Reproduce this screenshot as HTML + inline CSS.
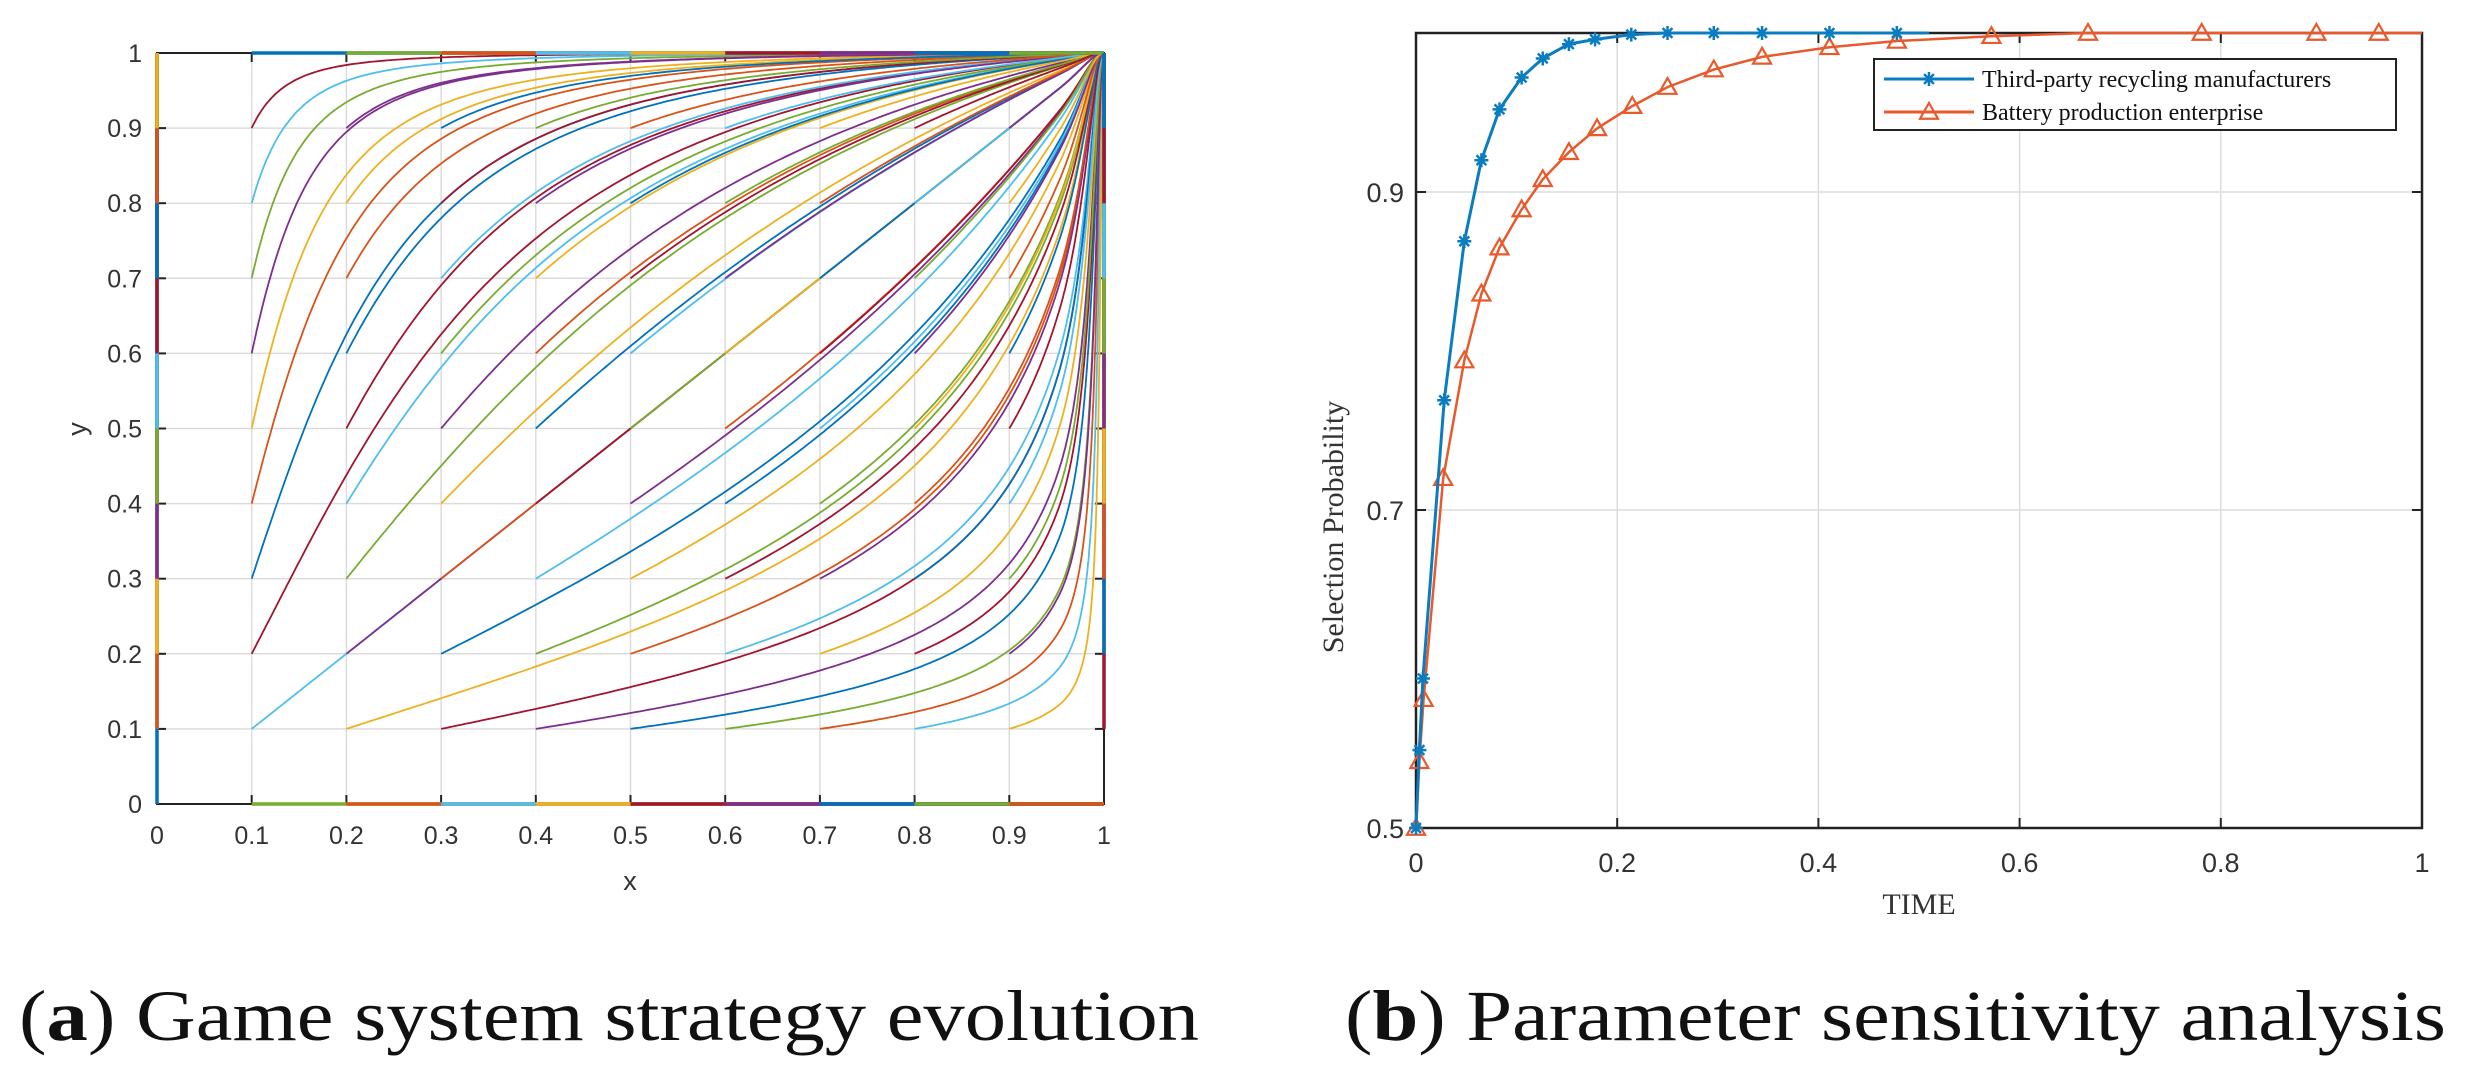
<!DOCTYPE html>
<html><head><meta charset="utf-8"><style>
html,body{margin:0;padding:0;background:#fff;}
svg{display:block;}
</style></head><body>
<svg id="fig" width="2467" height="1080" viewBox="0 0 2467 1080" xmlns="http://www.w3.org/2000/svg">
  <g id="left"></g>
  <g id="right"></g>
  <text x="19" y="1040" font-family="Liberation Serif, serif" font-size="72" fill="#111" textLength="1180" lengthAdjust="spacingAndGlyphs">(<tspan font-weight="bold">a</tspan>) Game system strategy evolution</text>
  <text x="1345" y="1040" font-family="Liberation Serif, serif" font-size="72" fill="#111" textLength="1101" lengthAdjust="spacingAndGlyphs">(<tspan font-weight="bold">b</tspan>) Parameter sensitivity analysis</text>
</svg>
<script>
// ---- Left chart data: starting points of trajectories ----
const startX = [0, 0.1, 0.2, 0.3, 0.4, 0.5, 0.6, 0.7, 0.8, 0.9, 1];
const startY = [0, 0.1, 0.2, 0.3, 0.4, 0.5, 0.6, 0.7, 0.8, 0.9, 1];
const leftTicks = [0, 0.1, 0.2, 0.3, 0.4, 0.5, 0.6, 0.7, 0.8, 0.9, 1];
const leftTickLabels = ["0","0.1","0.2","0.3","0.4","0.5","0.6","0.7","0.8","0.9","1"];
// ---- Right chart data ----
const blueT = [0, 0.0034, 0.0069, 0.028, 0.048, 0.065, 0.083, 0.105, 0.126, 0.152, 0.178, 0.214, 0.25, 0.296, 0.344, 0.411, 0.478];
const blueY = [0.5, 0.549, 0.594, 0.769, 0.869, 0.92, 0.952, 0.972, 0.984, 0.993, 0.996, 0.999, 1, 1, 1, 1, 1];
const blueEndT = [0.51];
const blueEndY = [1];
const orangeT = [0, 0.0034, 0.0076, 0.027, 0.048, 0.065, 0.083, 0.105, 0.126, 0.152, 0.18, 0.215, 0.25, 0.296, 0.344, 0.411, 0.478, 0.572, 0.668, 0.781, 0.895, 0.957];
const orangeY = [0.5, 0.542, 0.581, 0.72, 0.794, 0.836, 0.865, 0.889, 0.908, 0.925, 0.94, 0.954, 0.966, 0.977, 0.985, 0.991, 0.995, 0.998, 1, 1, 1, 1];
const rightXTicks = [0, 0.2, 0.4, 0.6, 0.8, 1];
const rightXTickLabels = ["0","0.2","0.4","0.6","0.8","1"];
const rightYTicks = [0.5, 0.7, 0.9];
const rightYTickLabels = ["0.5","0.7","0.9"];
const legendLabels = ["Third-party recycling manufacturers", "Battery production enterprise"];

const NS = "http://www.w3.org/2000/svg";
function mk(parent, tag, attrs) {
  const e = document.createElementNS(NS, tag);
  for (const k in attrs) e.setAttribute(k, attrs[k]);
  parent.appendChild(e);
  return e;
}
const palette = ["#0072BD","#D95319","#EDB120","#7E2F8E","#77AC30","#4DBEEE","#A2142F"];

// ---------- LEFT ----------
const L = document.getElementById('left');
const lx = v => 157 + v * (1104 - 157);
const ly = v => 804 - v * (804 - 53);
leftTicks.forEach((t, i) => {
  const gv = mk(L, 'line', {x1: lx(t), x2: lx(t), y1: ly(0), y2: ly(1), stroke: '#dcdcdc', 'stroke-width': 1.5});
  
  
  const gh = mk(L, 'line', {x1: lx(0), x2: lx(1), y1: ly(t), y2: ly(t), stroke: '#dcdcdc', 'stroke-width': 1.5});
  
  
});
mk(L, 'rect', {x: lx(0), y: ly(1), width: lx(1) - lx(0), height: ly(0) - ly(1), fill: 'none', stroke: '#222', 'stroke-width': 2});
leftTicks.forEach((t, i) => {
  mk(L, 'line', {x1: lx(t), x2: lx(t), y1: ly(0), y2: ly(0) - 9, stroke: '#222', 'stroke-width': 2});
  mk(L, 'line', {x1: lx(t), x2: lx(t), y1: ly(1), y2: ly(1) + 9, stroke: '#222', 'stroke-width': 2});
  mk(L, 'line', {x1: lx(0), x2: lx(0) + 9, y1: ly(t), y2: ly(t), stroke: '#222', 'stroke-width': 2});
  mk(L, 'line', {x1: lx(1), x2: lx(1) - 9, y1: ly(t), y2: ly(t), stroke: '#222', 'stroke-width': 2});
  const tx = mk(L, 'text', {x: lx(t), y: 844, 'text-anchor': 'middle', 'font-family': 'Liberation Sans, sans-serif', 'font-size': 25, fill: '#333'});
  tx.textContent = leftTickLabels[i];
  
  
  const ty = mk(L, 'text', {x: 142, y: ly(t) + 9, 'text-anchor': 'end', 'font-family': 'Liberation Sans, sans-serif', 'font-size': 25, fill: '#333'});
  ty.textContent = leftTickLabels[i];
  
  
});
const xt = mk(L, 'text', {x: 630, y: 890, 'text-anchor': 'middle', 'font-family': 'Liberation Sans, sans-serif', 'font-size': 27, fill: '#333'});
xt.textContent = 'x';


const yt = mk(L, 'text', {x: 0, y: 0, transform: 'translate(86,429) rotate(-90)', 'text-anchor': 'middle', 'font-family': 'Liberation Sans, sans-serif', 'font-size': 27, fill: '#333'});
yt.textContent = 'y';



const logit = p => Math.log(p / (1 - p));
const sig = z => 1 / (1 + Math.exp(-z));
let ci = 0;
startX.forEach(x0 => {
  startY.forEach(y0 => {
    let pts = [];
    if (x0 === 0) { pts = [[0, y0], [0, 1]]; }
    else if (y0 === 0) { pts = [[x0, 0], [1, 0]]; }
    else if (x0 === 1) { pts = [[1, y0], [1, 1]]; }
    else if (y0 === 1) { pts = [[x0, 1], [1, 1]]; }
    else {
      let u = logit(x0), v = logit(y0);
      const du = 0.02;
      pts.push([x0, y0]);
      for (let i = 0; i < 3000; i++) {
        const x = sig(u), y = sig(v);
        const k = Math.pow(y / x, 0.45);
        u += du; v += k * du * (1 + Math.max(0, u - 3) * 0.6);
        pts.push([sig(u), sig(v)]);
        if (sig(v) > 0.9995) break;
      }
      pts.push([1, 1]);
    }
    const d = pts.map((p, i) => (i ? 'L' : 'M') + lx(p[0]).toFixed(1) + ',' + ly(p[1]).toFixed(1)).join('');
    const path = mk(L, 'path', {d: d, fill: 'none', stroke: palette[ci % palette.length], 'stroke-width': (x0 === 0 || y0 === 0 || x0 === 1 || y0 === 1) ? 3.5 : 1.8});
    
    
    ci++;
  });
});

// ---------- RIGHT ----------
const R = document.getElementById('right');
const rx = v => 1416 + v * (2422 - 1416);
const ry = v => 828 - (v - 0.5) / 0.5 * (828 - 33);
rightXTicks.forEach((t, i) => {
  const g = mk(R, 'line', {x1: rx(t), x2: rx(t), y1: ry(0.5), y2: ry(1), stroke: '#dcdcdc', 'stroke-width': 1.5});
  
  
  mk(R, 'line', {x1: rx(t), x2: rx(t), y1: ry(0.5), y2: ry(0.5) - 10, stroke: '#222', 'stroke-width': 2});
  mk(R, 'line', {x1: rx(t), x2: rx(t), y1: ry(1), y2: ry(1) + 10, stroke: '#222', 'stroke-width': 2});
  const tx = mk(R, 'text', {x: rx(t), y: 872, 'text-anchor': 'middle', 'font-family': 'Liberation Sans, sans-serif', 'font-size': 27, fill: '#333'});
  tx.textContent = rightXTickLabels[i];
  
  
});
rightYTicks.forEach((t, i) => {
  const g = mk(R, 'line', {x1: rx(0), x2: rx(1), y1: ry(t), y2: ry(t), stroke: '#dcdcdc', 'stroke-width': 1.5});
  
  
  mk(R, 'line', {x1: rx(0), x2: rx(0) + 10, y1: ry(t), y2: ry(t), stroke: '#222', 'stroke-width': 2});
  mk(R, 'line', {x1: rx(1), x2: rx(1) - 10, y1: ry(t), y2: ry(t), stroke: '#222', 'stroke-width': 2});
  const ty = mk(R, 'text', {x: 1404, y: ry(t) + 10, 'text-anchor': 'end', 'font-family': 'Liberation Sans, sans-serif', 'font-size': 27, fill: '#333'});
  ty.textContent = rightYTickLabels[i];
  
  
});
mk(R, 'rect', {x: rx(0), y: ry(1), width: rx(1) - rx(0), height: ry(0.5) - ry(1), fill: 'none', stroke: '#222', 'stroke-width': 2.5});
const tt = mk(R, 'text', {x: 1919, y: 914, 'text-anchor': 'middle', 'font-family': 'Liberation Serif, serif', 'font-size': 30, fill: '#333'});
tt.textContent = 'TIME';


const st = mk(R, 'text', {x: 0, y: 0, transform: 'translate(1343,527) rotate(-90)', 'text-anchor': 'middle', 'font-family': 'Liberation Serif, serif', 'font-size': 30, fill: '#333'});
st.textContent = 'Selection Probability';



function star(g, cx, cy, col) {
  const s = 7;
  mk(g, 'path', {d: `M${cx-s},${cy}L${cx+s},${cy}M${cx},${cy-s}L${cx},${cy+s}M${cx-s*0.7},${cy-s*0.7}L${cx+s*0.7},${cy+s*0.7}M${cx-s*0.7},${cy+s*0.7}L${cx+s*0.7},${cy-s*0.7}`, stroke: col, 'stroke-width': 2.5, fill: 'none'});
}
function tri(g, cx, cy, col) {
  const s = 9;
  mk(g, 'path', {d: `M${cx},${cy-s}L${cx+s},${cy+s*0.75}L${cx-s},${cy+s*0.75}Z`, stroke: col, 'stroke-width': 2.2, fill: 'none'});
}
// orange series
const og = mk(R, 'g', {});


mk(og, 'path', {d: orangeT.map((t, i) => (i ? 'L' : 'M') + rx(t).toFixed(1) + ',' + ry(orangeY[i]).toFixed(1)).join('') + 'L' + rx(1) + ',' + ry(1), fill: 'none', stroke: '#E8592B', 'stroke-width': 2.5});
orangeT.forEach((t, i) => tri(og, rx(t), ry(orangeY[i]), '#E8592B'));
// blue series
const bg = mk(R, 'g', {});


const bAllT = blueT.concat(blueEndT), bAllY = blueY.concat(blueEndY);
mk(bg, 'path', {d: bAllT.map((t, i) => (i ? 'L' : 'M') + rx(t).toFixed(1) + ',' + ry(bAllY[i]).toFixed(1)).join(''), fill: 'none', stroke: '#0A7CC0', 'stroke-width': 3});
blueT.forEach((t, i) => star(bg, rx(t), ry(blueY[i]), '#0A7CC0'));

// legend
const lg = mk(R, 'g', {});


mk(lg, 'rect', {x: 1874, y: 59, width: 522, height: 71, fill: '#fff', stroke: '#222', 'stroke-width': 2});
const legCols = ['#0A7CC0', '#E8592B'];
legendLabels.forEach((lab, i) => {
  const yy = 79 + i * 33;
  mk(lg, 'line', {x1: 1884, x2: 1974, y1: yy, y2: yy, stroke: legCols[i], 'stroke-width': 3});
  if (i === 0) star(lg, 1929, yy, legCols[i]); else tri(lg, 1929, yy, legCols[i]);
  const t = mk(lg, 'text', {x: 1982, y: yy + 8, 'font-family': 'Liberation Serif, serif', 'font-size': 24, fill: '#111'});
  t.textContent = lab;
  
  
});
</script>
</body></html>
